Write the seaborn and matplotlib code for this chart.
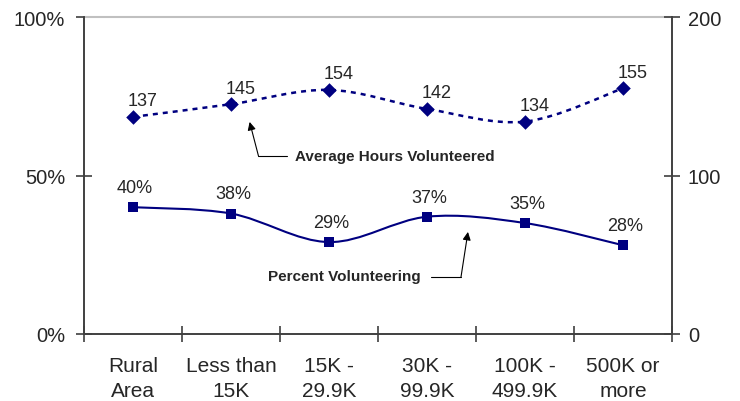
import numpy as np
import matplotlib
matplotlib.use('Agg')
import matplotlib.pyplot as plt
from matplotlib.path import Path
from matplotlib.patches import PathPatch
from matplotlib.ticker import PercentFormatter
import seaborn as sns

# data
categories = ['Rural\nArea', 'Less than\n15K', '15K -\n29.9K', '30K -\n99.9K',
              '100K -\n499.9K', '500K or\nmore']
pct_volunteering = [40, 38, 29, 37, 35, 28]
avg_hours = [137, 145, 154, 142, 134, 155]

navy = '#000080'
axis_grey = '#404040'

sns.set_style('white')
plt.rcParams['font.family'] = ['Liberation Sans', 'DejaVu Sans']


def smooth_path(xs, ys):
    # excel-like smoothed line: bezier segments with catmull-rom control points
    pts = np.column_stack([xs, ys]).astype(float)
    n = len(pts)
    verts = [pts[0]]
    codes = [Path.MOVETO]
    for i in range(n - 1):
        p_prev = pts[max(i - 1, 0)]
        p_next = pts[min(i + 2, n - 1)]
        c1 = pts[i] + (pts[i + 1] - p_prev) / 6
        c2 = pts[i + 1] - (p_next - pts[i]) / 6
        verts += [c1, c2, pts[i + 1]]
        codes += [Path.CURVE4] * 3
    return Path(verts, codes)


fig = plt.figure(figsize=(7.4, 4.02), dpi=100)
ax = fig.add_axes([84 / 740, 67 / 402, 588 / 740, 317 / 402])
ax2 = ax.twinx()

x = np.arange(len(categories))

# percent volunteering (left axis)
ax.add_patch(PathPatch(smooth_path(x, pct_volunteering), fill=False,
                       edgecolor=navy, lw=1.5, zorder=2))
sns.scatterplot(x=x, y=pct_volunteering, marker='s', s=52, color=navy,
                edgecolor=navy, linewidth=0, ax=ax, zorder=3, legend=False)
for xi, v in zip(x, pct_volunteering):
    ax.annotate(f'{v}%', (xi, v), xytext=(1.5, 8), textcoords='offset points',
                ha='center', va='bottom', fontsize=13)

# average hours (right axis)
ax2.add_patch(PathPatch(smooth_path(x, avg_hours), fill=False, edgecolor=navy,
                        lw=1.8, linestyle=(0, (2, 2)), zorder=2))
sns.scatterplot(x=x, y=avg_hours, marker='D', s=55, color=navy,
                edgecolor=navy, linewidth=0, ax=ax2, zorder=3, legend=False)
for xi, v in zip(x, avg_hours):
    ax2.annotate(f'{v}', (xi, v), xytext=(7, 5.5), textcoords='offset points',
                 ha='center', va='bottom', fontsize=13)

# axes setup
ax.set_xlim(-0.5, len(categories) - 0.5)
ax.set_ylim(0, 100)
ax2.set_ylim(0, 200)
ax.set_yticks([0, 50, 100])
ax2.set_yticks([0, 100, 200])
ax.yaxis.set_major_formatter(PercentFormatter(decimals=0))

ax.set_xticks(np.arange(len(categories) + 1) - 0.5)
ax.set_xticks(x, categories, minor=True)
ax.tick_params(axis='x', which='major', direction='inout', length=11, width=1.2,
               color=axis_grey, bottom=True, labelbottom=False)
ax.tick_params(axis='x', which='minor', length=0, pad=16, labelsize=15,
               bottom=True)
for lab in ax.get_xticklabels(minor=True):
    lab.set_linespacing(1.4)
ax.tick_params(axis='y', direction='inout', length=11, width=1.2,
               color=axis_grey, left=True, pad=8, labelsize=14.5)
ax2.tick_params(axis='y', direction='inout', length=11, width=1.2,
                color=axis_grey, right=True, pad=6, labelsize=14.5)
ax.set_xlabel('')
ax.set_ylabel('')
ax2.set_ylabel('')

for a in (ax, ax2):
    a.spines['top'].set_visible(False)
    for s in ('left', 'right', 'bottom'):
        a.spines[s].set_color(axis_grey)
        a.spines[s].set_linewidth(1.2)
ax.axhline(100, color='#c0c0c0', lw=1.5, clip_on=False, zorder=1)

# callouts
ax.text(1.653, 56.2, 'Average Hours Volunteered', fontsize=11,
        fontweight='bold', ha='left', va='center')
ax.plot([1.571, 1.28], [56.2, 56.2], color='black', lw=0.8)
ax.annotate('', xy=(1.19, 66.9), xytext=(1.28, 56.2),
            arrowprops=dict(arrowstyle='-|>', color='black', lw=0.8,
                            mutation_scale=12, shrinkA=0, shrinkB=0))

ax.text(2.153, 18.3, 'Percent Volunteering', fontsize=11,
        fontweight='bold', ha='center', va='center')
ax.plot([3.04, 3.347], [18.0, 18.0], color='black', lw=0.8)
ax.annotate('', xy=(3.418, 32.2), xytext=(3.347, 18.0),
            arrowprops=dict(arrowstyle='-|>', color='black', lw=0.8,
                            mutation_scale=12, shrinkA=0, shrinkB=0))

fig.savefig('out.png', dpi=100)
